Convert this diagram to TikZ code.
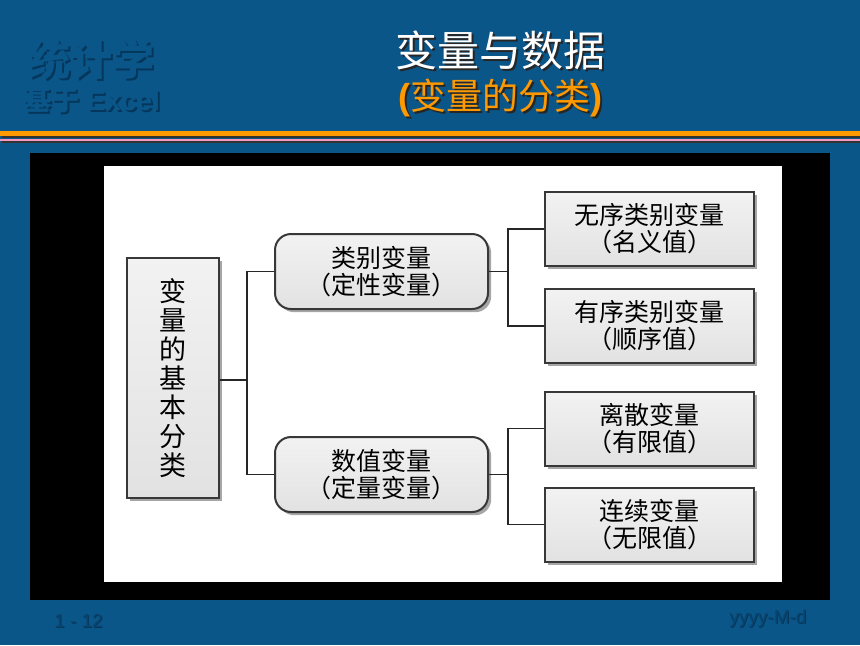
\documentclass[tikz,border=0pt]{standalone}
\usepackage{fontspec}
\setmainfont{Liberation Sans}
\newfontfamily\cjk{Noto Sans CJK SC}
\usepackage{tikz}
\usetikzlibrary{positioning,shadows}
\definecolor{slide}{HTML}{0B5689}
\definecolor{deep}{HTML}{05375C}
\definecolor{stripe}{HTML}{FF9900}
\definecolor{rose}{HTML}{F49AC1}
\definecolor{panel}{HTML}{E2E2E2}
\definecolor{edge}{HTML}{383838}

\begin{document}
\begin{tikzpicture}[
    x=0.5pt,y=-0.5pt,
    node distance=10.5pt,
    box/.style={draw=edge,line width=1pt,top color=panel!45,bottom color=panel,
      drop shadow={shadow xshift=1.6pt,shadow yshift=-1.6pt,fill=black,opacity=0.35},
      align=center,inner sep=0pt,font=\cjk\fontsize{12.5}{13.5}\selectfont},
    rootbox/.style={box,minimum width=46pt,minimum height=120pt,font=\cjk\fontsize{13.5}{14.5}\selectfont},
    catbox/.style={box,rounded corners=8pt,minimum width=106.5pt,minimum height=37.5pt},
    leafbox/.style={box,minimum width=104.5pt,minimum height=37pt},
    link/.style={line width=0.9pt,black!85},
    shade/.style={text=deep},
    emboss/.style={text=slide}
  ]
    \fill[slide] (0,0) rectangle (860,645);

    \fill[stripe] (0,131) rectangle (860,135.5);
    \fill[black!80] (2,135.5) rectangle (860,138);
    \fill[rose] (0,138.5) rectangle (860,141);
    \fill[black!80] (2,141) rectangle (860,142.5);

    \fill[black] (30,153) rectangle (830,600);
    \fill[white] (104,166) rectangle (782,582);

    \node[shade,font=\cjk\bfseries\fontsize{21}{21}\selectfont] (brandS) at (93.5,61.5) {统计学};
    \node[emboss,font=\cjk\bfseries\fontsize{21}{21}\selectfont] (brand) at (91.5,59.5) {统计学};
    \node[shade,font=\bfseries\fontsize{14}{14}\selectfont] (subbrandS) at (93.5,101.5) {{\cjk 基于} Excel};
    \node[emboss,font=\bfseries\fontsize{14}{14}\selectfont] (subbrand) at (91.5,99.5) {{\cjk 基于} Excel};

    \node[text=black!85,font=\cjk\fontsize{21}{21}\selectfont] (titleS) at (502,52) {变量与数据};
    \node[text=white,font=\cjk\fontsize{21}{21}\selectfont] (title) at (500,50) {变量与数据};
    \node[text=black!85,font=\bfseries\fontsize{18}{18}\selectfont] (subtitleS) at (502,100) {({\cjk\mdseries 变量的分类})};
    \node[text=stripe,font=\bfseries\fontsize{18}{18}\selectfont] (subtitle) at (500,98) {({\cjk\mdseries 变量的分类})};

    \node[rootbox] (root) at (173,378) {变\\量\\的\\基\\本\\分\\类};

    \node[catbox] (cat) at (381.5,271.5) {类别变量\\（定性变量）};
    \node[catbox] (num) at (381.5,474.5) {数值变量\\（定量变量）};

    \node[leafbox] (nominal) at (649.5,229) {无序类别变量\\（名义值）};
    \node[leafbox,below=of nominal] (ordinal) {有序类别变量\\（顺序值）};
    \node[leafbox] (discrete) at (649.5,428.5) {离散变量\\（有限值）};
    \node[leafbox,below=10pt of discrete] (continuous) {连续变量\\（无限值）};

    \coordinate (fork) at (247,380);
    \coordinate (forkc) at (508,271.5);
    \coordinate (forkn) at (508,474.5);

    \draw[link] (root.east |- fork) -- (fork);
    \draw[link] (cat.west) -| (fork) |- (num.west);
    \draw[link] (cat) -- (forkc);
    \draw[link] (nominal.west) -| (forkc) |- (ordinal.west);
    \draw[link] (num) -- (forkn);
    \draw[link] (discrete.west) -| (forkn) |- (continuous.west);

    \node[shade,font=\fontsize{9.5}{9.5}\selectfont] (pageS) at (79.5,621.5) {1 - 12};
    \node[text=slide!80!black,font=\fontsize{9.5}{9.5}\selectfont] (page) at (78.5,620.5) {1 - 12};
    \node[shade,font=\fontsize{9.5}{9.5}\selectfont] (dateS) at (769,619.5) {yyyy-M-d};
    \node[text=slide!80!black,font=\fontsize{9.5}{9.5}\selectfont] (date) at (768,618.5) {yyyy-M-d};
  \end{tikzpicture}
\end{document}
